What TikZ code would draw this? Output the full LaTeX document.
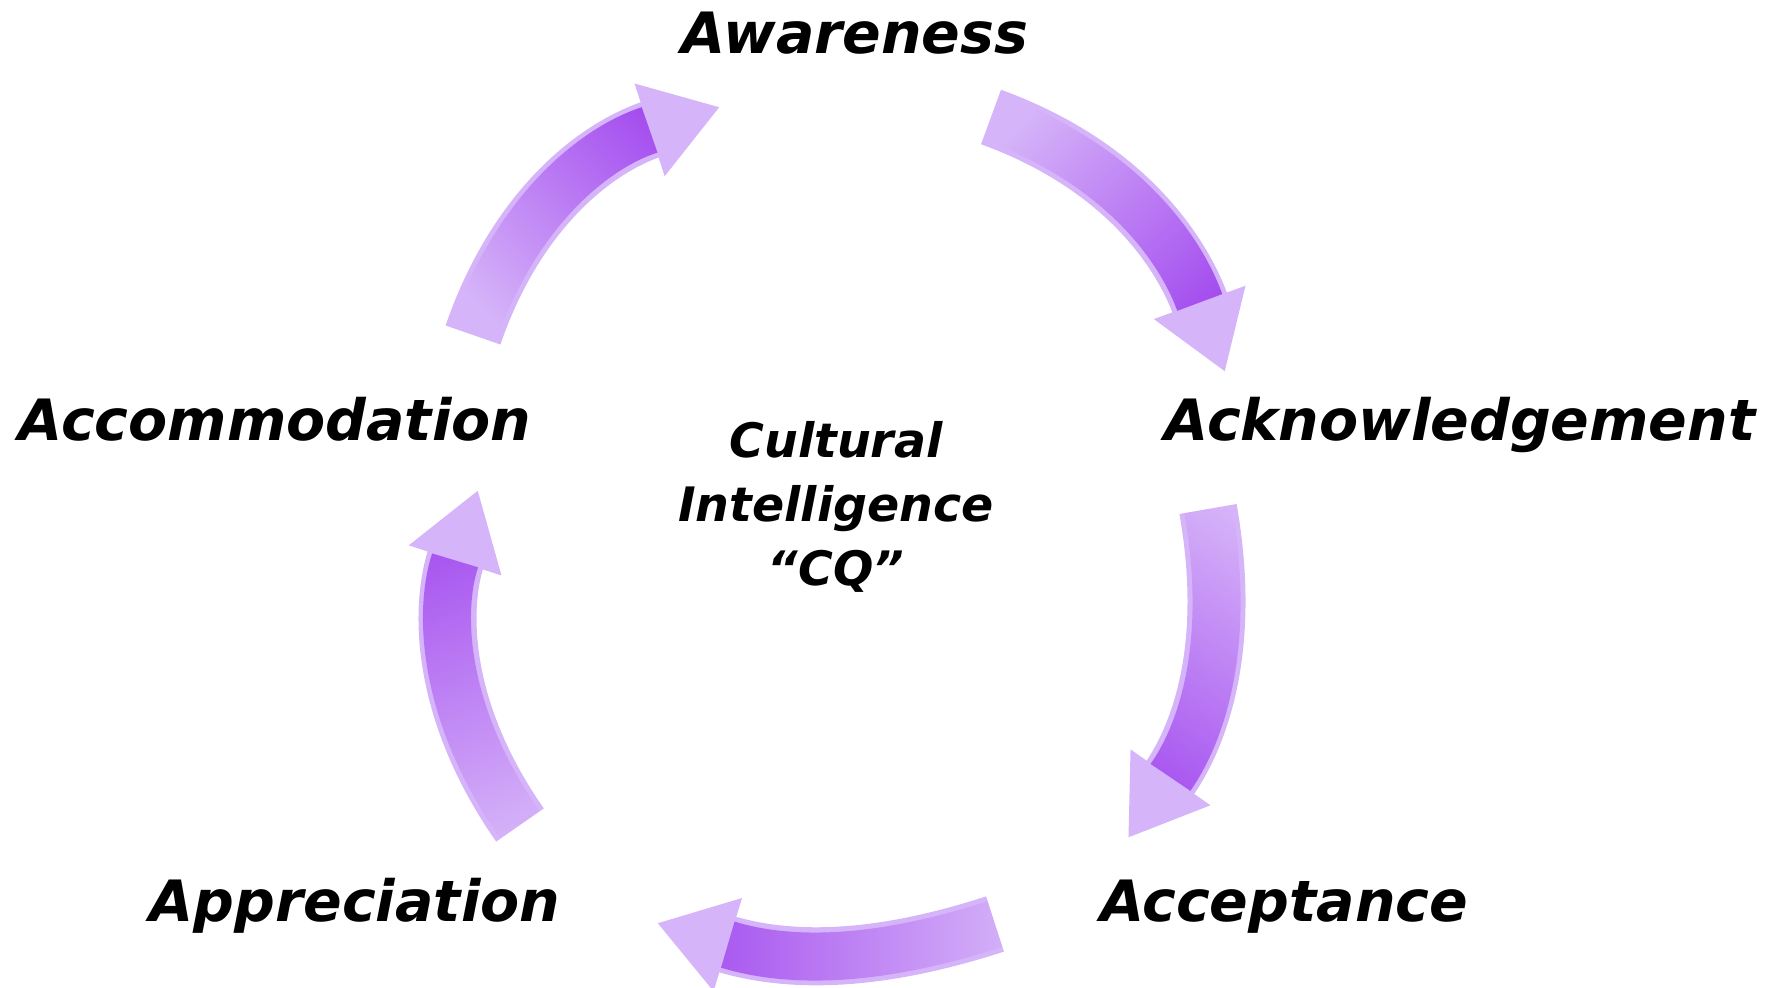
\documentclass[tikz,border=0pt]{standalone}
\usepackage{fontspec}
\setmainfont{DejaVu Sans}
\usetikzlibrary{arrows.meta,fadings}

\definecolor{cqlight}{RGB}{214,180,249}
\definecolor{cqdark}{RGB}{158,64,238}

\tikzfading[name=cqfade, left color=transparent!100, right color=transparent!0]

\tikzset{
  stage/.style={font=\fontsize{16.2}{19}\selectfont\bfseries\itshape, anchor=base, inner sep=0pt},
  cycarrow/.style={draw=cqlight, line width=0.58cm, -{Triangle[length=0.74cm, width=0.92cm]}},
  cycshade/.style={draw=cqdark, line width=0.48cm, shorten >=0.74cm, path fading=cqfade},
}

\begin{document}
\begin{tikzpicture}[x=0.01cm, y=0.01cm]
   \useasboundingbox (0,0) rectangle (1779,988);
   % the five stages
   \node[stage] (aware) at (855,934) {Awareness};
   \node[stage] (ackn) at (1460,547) {Acknowledgement};
   \node[stage] (accept) at (1284,67) {Acceptance};
   \node[stage] (apprec) at (355,67) {Appreciation};
   \node[stage] (accom) at (275,547) {Accommodation};
   \node[font=\fontsize{13.5}{18.3}\selectfont\bfseries\itshape, align=center, inner sep=0pt] (cq) at (836,481) {Cultural\\Intelligence\\``CQ''};
   % arrow ends
   \coordinate (accom-out) at (473,653);
   \coordinate (aware-in) at (720,881);
   \coordinate (aware-out) at (991,871);
   \coordinate (ackn-in) at (1225,616);
   \coordinate (ackn-out) at (1208,479);
   \coordinate (accept-in) at (1128,150);
   \coordinate (accept-out) at (995,64);
   \coordinate (apprec-in) at (657,65);
   \coordinate (apprec-out) at (520,163);
   \coordinate (accom-in) at (478,498);
   % arrows, light body first, then the darker shade towards the head
   \draw[cycarrow] (accom-out) to[out=71, in=198] (aware-in);
   \draw[cycshade, fading angle=43] (accom-out) to[out=71, in=198] (aware-in);
   \draw[cycarrow] (aware-out) to[out=-20, in=110] (ackn-in);
   \draw[cycshade, fading angle=-47] (aware-out) to[out=-20, in=110] (ackn-in);
   \draw[cycarrow] (ackn-out) to[out=-80, in=55] (accept-in);
   \draw[cycshade, fading angle=-104] (ackn-out) to[out=-80, in=55] (accept-in);
   \draw[cycarrow] (accept-out) to[out=198, in=-17] (apprec-in);
   \draw[cycshade, fading angle=180] (accept-out) to[out=198, in=-17] (apprec-in);
   \draw[cycarrow] (apprec-out) to[out=125, in=252] (accom-in);
   \draw[cycshade, fading angle=97] (apprec-out) to[out=125, in=252] (accom-in);
\end{tikzpicture}
\end{document}
